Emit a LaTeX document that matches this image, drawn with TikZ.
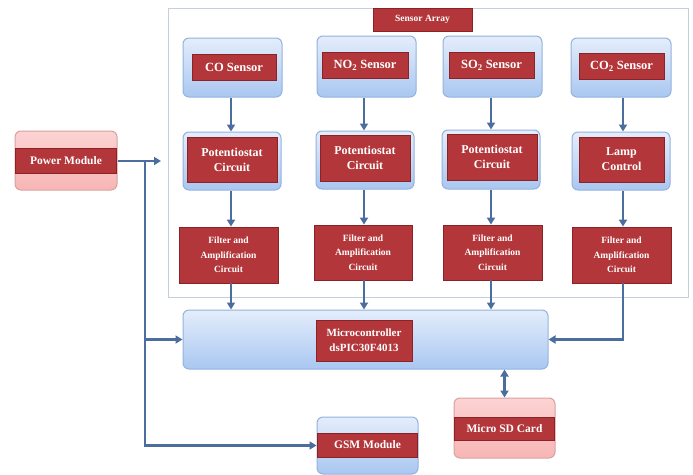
\documentclass[tikz,border=0pt]{standalone}
\usepackage{fontspec}
\setmainfont{Liberation Serif}
\usetikzlibrary{arrows.meta,shadings}
\definecolor{boxred}{HTML}{B3373A}
\definecolor{rededge}{HTML}{8A2226}
\definecolor{bluetop}{HTML}{E4EDFB}
\definecolor{bluebot}{HTML}{A9C7F1}
\definecolor{blueedge}{HTML}{93B2DE}
\definecolor{pinklt}{HTML}{FCD3D3}
\definecolor{pinkdk}{HTML}{F8B5B5}
\definecolor{pinkedge}{HTML}{D9A0A0}
\definecolor{arrowblue}{HTML}{4C6E9E}
\definecolor{frame}{HTML}{C5CEDB}
\tikzset{
  bluebox/.style={draw=blueedge, line width=1pt, rounded corners=6pt, top color=bluetop, bottom color=bluebot, inner sep=0pt},
  pinkbox/.style={draw=pinkedge, line width=1pt, rounded corners=6pt, top color=pinklt, bottom color=pinkdk, inner sep=0pt},
  redbox/.style={draw=rededge, line width=0.8pt, fill=boxred, text=white, align=center, inner sep=0pt, font=\bfseries},
  band/.style={fill=boxred, draw=rededge, line width=0.6pt, text=white, align=center, inner sep=0pt, font=\bfseries},
  arr/.style={draw=arrowblue, line width=2.4pt, -{Triangle[length=7pt,width=8pt]}},
  darr/.style={draw=arrowblue, line width=2.4pt, {Triangle[length=7pt,width=8pt]}-{Triangle[length=7pt,width=8pt]}},
  ln/.style={draw=arrowblue, line width=2.4pt}
}
% \bx{name}{style}{x1}{y1}{x2}{y2}{text}
\newcommand{\bx}[7]{\node[#2, minimum width={(#5-#3)*1pt}, minimum height={(#6-#4)*1pt}] (#1) at ({(#3+#5)/2},{(#4+#6)/2}) {#7};}
\begin{document}
\begin{tikzpicture}[x=1pt,y=-1pt]
\useasboundingbox (0,0) rectangle (693,474);
% sensor array frame
\draw[frame, line width=1pt] (168,8) rectangle (688,297);
\bx{sa}{redbox,font=\bfseries\fontsize{9.5}{11}\selectfont}{373}{8}{472}{31}{Sensor Array}
% power module
\bx{pm}{pinkbox}{15}{131}{117}{190}{}
\bx{pmt}{band,font=\bfseries\fontsize{11.5}{13}\selectfont}{15.5}{148}{116.5}{173}{Power Module}
% sensors
\bx{s1}{bluebox}{183}{38}{282}{97}{}
\bx{s1t}{redbox,font=\bfseries\fontsize{12.5}{14}\selectfont}{192}{54}{276}{80}{CO Sensor}
\bx{s2}{bluebox}{317}{36}{416}{97}{}
\bx{s2t}{redbox,font=\bfseries\fontsize{12.5}{14}\selectfont}{322}{52}{408}{78}{NO\textsubscript{2} Sensor}
\bx{s3}{bluebox}{443}{36}{542}{97}{}
\bx{s3t}{redbox,font=\bfseries\fontsize{12.5}{14}\selectfont}{449}{52}{534}{78}{SO\textsubscript{2} Sensor}
\bx{s4}{bluebox}{571}{38}{671}{97}{}
\bx{s4t}{redbox,font=\bfseries\fontsize{12.5}{14}\selectfont}{579}{53}{664}{79}{CO\textsubscript{2} Sensor}
% potentiostat / lamp
\bx{p1}{bluebox}{183}{132}{281}{190}{}
\bx{p1t}{redbox,font=\bfseries\fontsize{12}{15}\selectfont}{187}{137}{277}{182}{Potentiostat\\Circuit}
\bx{p2}{bluebox}{316}{131}{414}{189}{}
\bx{p2t}{redbox,font=\bfseries\fontsize{12}{15}\selectfont}{320}{135}{410}{181}{Potentiostat\\Circuit}
\bx{p3}{bluebox}{442}{130}{540}{189}{}
\bx{p3t}{redbox,font=\bfseries\fontsize{12}{15}\selectfont}{447}{134}{537}{180}{Potentiostat\\Circuit}
\bx{p4}{bluebox}{572}{132}{670}{190}{}
\bx{p4t}{redbox,font=\bfseries\fontsize{12}{15}\selectfont}{579}{137}{664}{182}{Lamp\\Control}
% filters
\bx{f1}{redbox,font=\bfseries\fontsize{9.5}{14.5}\selectfont}{179}{227}{278}{283}{Filter and\\Amplification\\Circuit}
\bx{f2}{redbox,font=\bfseries\fontsize{9.5}{14.5}\selectfont}{314}{225}{412}{280}{Filter and\\Amplification\\Circuit}
\bx{f3}{redbox,font=\bfseries\fontsize{9.5}{14.5}\selectfont}{443}{225}{542}{280}{Filter and\\Amplification\\Circuit}
\bx{f4}{redbox,font=\bfseries\fontsize{9.5}{14.5}\selectfont}{572}{227}{671}{283}{Filter and\\Amplification\\Circuit}
% microcontroller
\bx{mc}{bluebox}{183}{310}{548}{369}{}
\bx{mct}{redbox,font=\bfseries\fontsize{11}{15}\selectfont}{316}{320}{412}{361}{Microcontroller\\dsPIC30F4013}
% micro SD
\bx{sd}{pinkbox}{454}{398}{555}{458}{}
\bx{sdt}{band,font=\bfseries\fontsize{11.5}{13}\selectfont}{454.5}{417}{554.5}{440}{Micro SD Card}
% GSM
\bx{gsm}{bluebox}{317}{417}{418}{474}{}
\bx{gsmt}{band,font=\bfseries\fontsize{11.5}{13}\selectfont}{317.5}{433}{417.5}{457}{GSM Module}
% column x positions
\coordinate (c1) at (231,0);
\coordinate (c2) at (364,0);
\coordinate (c3) at (491,0);
\coordinate (c4) at (623,0);
% connectors
\coordinate (pmtip) at (161,161);
\coordinate (jn) at (145,161);
\draw[arr] (pm.east |- jn) -- (pmtip);
\draw[ln] (jn) -- (jn |- gsm.west);
\draw[arr] (jn) |- (mc.west);
\draw[arr] (jn) |- (gsm.west);
\foreach \i in {1,2,3,4}{
  \draw[arr] (s\i.south -| c\i) -- (p\i.north -| c\i);
  \draw[arr] (p\i.south -| c\i) -- (f\i.north -| c\i);
}
\draw[arr] (f1.south -| c1) -- (mc.north -| c1);
\draw[arr] (f2.south -| c2) -- (mc.north -| c2);
\draw[arr] (f3.south -| c3) -- (mc.north -| c3);
\draw[arr] (f4.south -| c4) |- (mc.east);
\draw[darr] (mc.south -| sd.north) -- (sd.north);
\end{tikzpicture}
\end{document}
